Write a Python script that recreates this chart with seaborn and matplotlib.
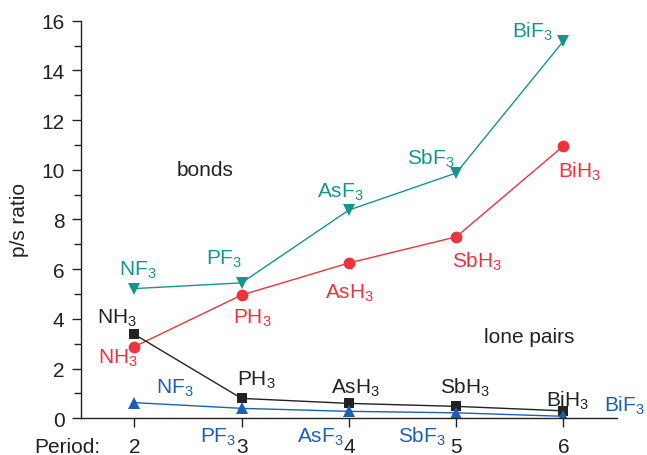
import matplotlib
matplotlib.use("Agg")
import matplotlib.pyplot as plt
import seaborn as sns
import pandas as pd

sns.set_style("ticks")
plt.rcParams['font.family'] = ['Liberation Sans', 'DejaVu Sans']
plt.rcParams['mathtext.fontset'] = 'custom'
plt.rcParams['mathtext.rm'] = 'Liberation Sans'
plt.rcParams['mathtext.it'] = 'Liberation Sans:italic'

periods = [2, 3, 4, 5, 6]
bonds_F = [5.22, 5.45, 8.38, 9.87, 15.18]
bonds_H = [2.88, 4.96, 6.25, 7.30, 10.96]
lp_H = [3.38, 0.80, 0.60, 0.48, 0.30]
lp_F = [0.63, 0.40, 0.28, 0.22, 0.08]
fluorides = ["NF", "PF", "AsF", "SbF", "BiF"]
hydrides = ["NH", "PH", "AsH", "SbH", "BiH"]

teal = "#16958c"
red = "#ec3440"
black = "#222222"
blue = "#1f5fb0"

fig = plt.figure(figsize=(6.47, 4.56), dpi=100)
ax = fig.add_axes([0.1247, 0.0805, 0.829, 0.8719])

series = [
    (bonds_F, teal, "v", 9),
    (bonds_H, red, "o", 8.5),
    (lp_H, black, "s", 7.5),
    (lp_F, blue, "^", 9),
]
for vals, col, mk, ms in series:
    df = pd.DataFrame({"period": periods, "ratio": vals})
    sns.lineplot(data=df, x="period", y="ratio", color=col, marker=mk,
                 markersize=ms, markeredgewidth=0, linewidth=1.0, ax=ax)

fs = 15
def lab(name, x, y, col):
    ax.text(x, y, name + r"$_{\mathrm{3}}$", color=col, fontsize=fs,
            ha="center", va="center", clip_on=False)

# bonds, fluorides (teal)
tealpos = [(2.03, 6.0), (2.84, 6.45), (3.92, 9.15), (4.77, 10.5), (5.71, 15.6)]
for n, (x, y) in zip(fluorides, tealpos):
    lab(n, x, y, teal)
# bonds, hydrides (red)
redpos = [(1.85, 2.45), (3.1, 4.05), (4.01, 5.05), (5.2, 6.35), (6.15, 9.95)]
for n, (x, y) in zip(hydrides, redpos):
    lab(n, x, y, red)
# lone pairs, hydrides (black)
blackpos = [(1.84, 4.05), (3.14, 1.55), (4.06, 1.25), (5.08, 1.25), (6.04, 0.75)]
for n, (x, y) in zip(hydrides, blackpos):
    lab(n, x, y, black)
# lone pairs, fluorides (blue)
bluepos = [(2.38, 1.25), (2.78, -0.72), (3.73, -0.72), (4.68, -0.72), (6.57, 0.55)]
for n, (x, y) in zip(fluorides, bluepos):
    lab(n, x, y, blue)

ax.text(2.66, 10.0, "bonds", fontsize=fs, color=black, ha="center", va="center")
ax.text(5.68, 3.3, "lone pairs", fontsize=fs, color=black, ha="center", va="center")

ax.set_xlim(1.5, 6.5)
ax.set_ylim(0, 16)
ax.set_xticks(periods)
ax.set_yticks(range(0, 17, 2))
ax.set_yticks(range(0, 17, 1), minor=True)
ax.tick_params(axis="both", which="major", direction="out", length=6.7,
               width=1.0, labelsize=fs, color=black, labelcolor=black, pad=5)
ax.tick_params(axis="x", which="major", pad=6.5)
ax.tick_params(axis="y", which="minor", direction="out", length=4.8, width=1.0, color=black)
ax.set_xlabel("")
ax.set_ylabel("p/s ratio", fontsize=fs, color=black, labelpad=9)
for s in ["top", "right"]:
    ax.spines[s].set_visible(False)
for s in ["left", "bottom"]:
    ax.spines[s].set_linewidth(1.0)
    ax.spines[s].set_color(black)

ax.text(1.68, -0.072, "Period:", transform=ax.get_xaxis_transform(),
        fontsize=fs, color=black, ha="right", va="center", clip_on=False)

fig.savefig("out.png", dpi=100)
